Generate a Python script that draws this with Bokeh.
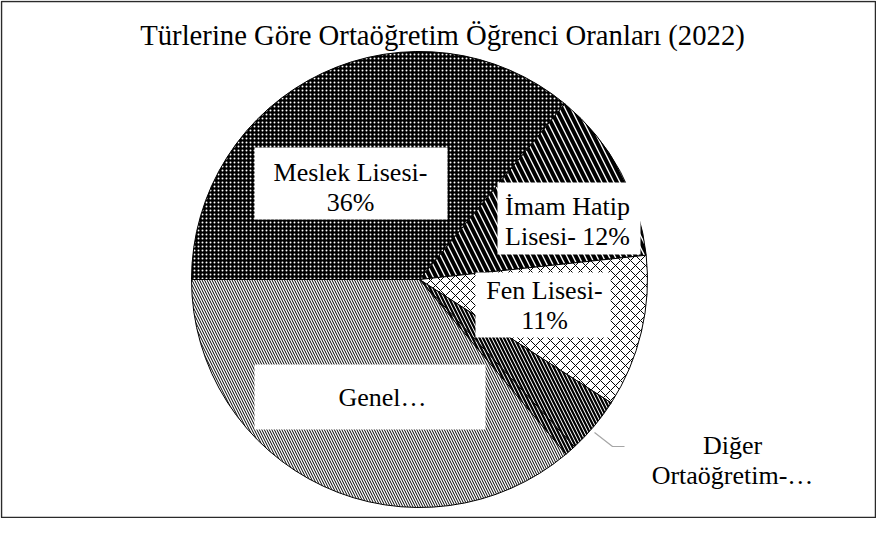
import math
from bokeh.plotting import figure
from bokeh.models import Range1d, ColumnDataSource, Label
from bokeh.core.properties import value
from bokeh.embed import file_html
from bokeh.resources import INLINE

# ---- data ----
title_text = "Türlerine Göre Ortaöğretim Öğrenci Oranları (2022)"
categories = ["Meslek Lisesi", "İmam Hatip Lisesi", "Fen Lisesi",
              "Diğer Ortaöğretim", "(etiketsiz)", "Genel Lise"]
shares = [36.0, 12.3, 10.8, 4.0, 0.8, 36.1]   # percent
label_lines = [["Meslek Lisesi-", "36%"],
               ["İmam Hatip", "Lisesi- 12%"],
               ["Fen Lisesi-", "11%"],
               ["Diğer", "Ortaöğretim-…"],
               [],
               ["Genel…"]]

# ---- styling ----
FONT_NAME = "'Liberation Serif', serif"
FONT = value(FONT_NAME)
fills = ["black", "white", "white", "white", "white", "white"]
hatches = ["dot", "left_diagonal_line", "diagonal_cross",
           "left_diagonal_line", "left_diagonal_line", "left_diagonal_line"]
hatch_colors = ["white", "black", "black", "black", "black", "black"]
hatch_scales = [4.0, 12.0, 10.0, 7.0, 7.0, 5.0]
hatch_weights = [1.6, 4.0, 1.0, 2.2, 2.2, 1.0]

W, H = 876, 518
p = figure(width=W, height=H, output_backend="svg", toolbar_location=None,
           x_range=Range1d(8, 8 + W), y_range=Range1d(-(8 + H), -8),
           min_border=0, outline_line_color=None)
p.axis.visible = False
p.grid.visible = False
p.background_fill_color = "white"
p.border_fill_color = "white"

# frame
p.quad(left=[9], right=[883], top=[-9], bottom=[-525],
       fill_color=None, line_color="#2a2a2a", line_width=1.5)

# pie geometry (screen coords, y negated)
cx, cy, r = 427, -287, 228
start_compass = 270.0
starts, ends = [], []
acc = 0.0
total = sum(shares)
for s in shares:
    c0 = start_compass + acc / total * 360.0
    acc += s
    c1 = start_compass + acc / total * 360.0
    starts.append(math.radians(90 - c0))
    ends.append(math.radians(90 - c1))

src = ColumnDataSource(dict(
    x=[cx] * len(shares), y=[cy] * len(shares), cat=categories,
    start=starts, end=ends, fill=fills, hatch=hatches, hcol=hatch_colors,
    hscale=hatch_scales, hweight=hatch_weights))
p.wedge(x="x", y="y", radius=r, start_angle="start", end_angle="end",
        direction="clock", source=src, fill_color="fill",
        hatch_pattern="hatch", hatch_color="hcol", hatch_scale="hscale",
        hatch_weight="hweight", line_color="black", line_width=1)

# label boxes (left, top, right, bottom) in screen coords, and text centres
boxes = [(262, 155, 455, 227), (505, 190, 648, 262), (483, 280, 618, 345),
         None, None, (262, 372, 493, 437)]
centres = [(358, 180), (575, 214), (552, 298), (740, 453), None, (390, 405)]
LS = 30
for i, lines in enumerate(label_lines):
    if not lines:
        continue
    b = boxes[i]
    if b is not None:
        p.quad(left=[b[0]], right=[b[2]], top=[-b[1]], bottom=[-b[3]],
               fill_color="white", line_color=None)
    tx, ty = centres[i]
    ys = [-(ty + k * LS) for k in range(len(lines))]
    p.text(x=[tx] * len(lines), y=ys, text=lines, text_font=FONT,
           text_font_size="26px", text_align="center",
           text_baseline="middle", text_color="black")

# leader line for Diğer Ortaöğretim
p.line(x=[602, 620, 632], y=[-440, -454, -454], line_color="#a6a6a6",
       line_width=1.2)

# title
p.add_layout(Label(x=450, y=-42, text=title_text, text_font=FONT_NAME,
                   text_font_size="28.7px", text_align="center",
                   text_baseline="middle", text_color="black"))

open("out.html", "w").write(file_html(p, INLINE))
